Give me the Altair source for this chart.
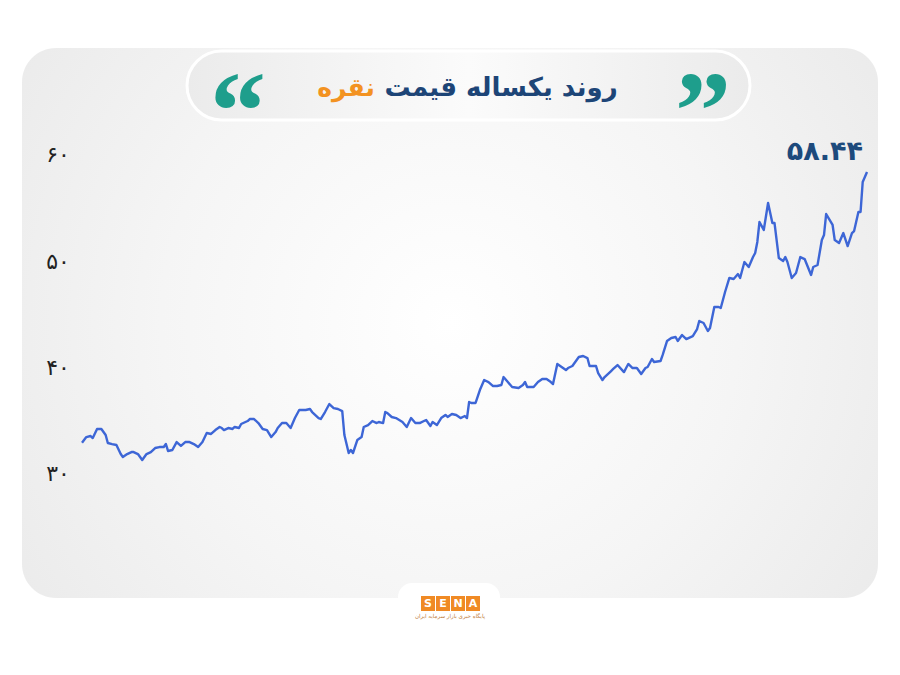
import altair as alt
import pandas as pd

# ---- data (day offset within the year, price USD/oz) ----
days = [0, 2, 4, 5, 7, 9, 11, 12, 14, 16, 18, 19, 21, 23, 24, 26, 28, 30, 32, 34,
        36, 38, 39, 40, 42, 44, 46, 48, 50, 52, 54, 56, 58, 60, 62, 64, 65, 66, 68, 70,
        71, 73, 74, 77, 78, 80, 82, 84, 86, 88, 90, 91, 93, 95, 97, 99, 101, 104, 106, 107,
        110, 111, 113, 115, 117, 119, 121, 122, 124, 125, 126, 128, 130, 131, 133, 135, 137, 138, 140, 141,
        142, 144, 146, 149, 151, 153, 155, 157, 159, 160, 162, 163, 165, 167, 169, 170, 172, 174, 176, 178,
        179, 180, 181, 183, 185, 187, 189, 191, 193, 195, 196, 198, 200, 203, 205, 206, 207, 210, 212, 214,
        216, 218, 219, 221, 225, 226, 228, 231, 233, 235, 236, 239, 240, 242, 243, 246, 247, 249, 252, 253,
        254, 256, 258, 260, 262, 263, 265, 266, 269, 270, 272, 274, 276, 277, 279, 281, 284, 286, 287, 289,
        291, 292, 294, 296, 297, 299, 301, 303, 305, 306, 308, 310, 312, 313, 314, 315, 317, 319, 321, 322,
        324, 326, 327, 328, 330, 332, 334, 336, 339, 340, 342, 344, 345, 346, 349, 350, 352, 354, 356, 358,
        359, 361, 362, 363, 365]
prices = [32.95, 33.48, 33.58, 33.39, 34.24, 34.24, 33.67, 32.92, 32.82, 32.73, 31.88, 31.60, 31.88, 32.07, 32.07, 31.88, 31.32, 31.88, 32.07, 32.45,
          32.54, 32.54, 32.82, 32.17, 32.26, 33.01, 32.64, 33.01, 33.01, 32.82, 32.54, 33.01, 33.86, 33.77, 34.14, 34.43, 34.33, 34.14, 34.33, 34.24,
          34.43, 34.33, 34.71, 34.99, 35.18, 35.18, 34.80, 34.24, 34.14, 33.48, 33.95, 34.33, 34.80, 34.80, 34.33, 35.27, 36.03, 36.03, 36.12, 35.84,
          35.27, 35.18, 35.84, 36.59, 36.21, 36.12, 35.93, 33.67, 31.98, 32.26, 31.98, 33.20, 33.48, 34.43, 34.61, 34.99, 34.80, 34.90, 34.80, 35.84,
          35.74, 35.37, 35.27, 34.90, 34.43, 35.27, 34.80, 34.80, 34.99, 35.08, 34.52, 34.90, 34.61, 35.27, 35.56, 35.37, 35.65, 35.56, 35.27, 35.46,
          35.27, 36.78, 36.69, 36.69, 37.91, 38.85, 38.66, 38.29, 38.29, 38.38, 39.13, 38.66, 38.19, 38.10, 38.38, 38.66, 38.19, 38.19, 38.66, 38.95,
          38.95, 38.66, 38.47, 40.36, 39.79, 39.98, 40.17, 41.02, 41.11, 40.92, 40.17, 40.17, 39.51, 38.85, 39.13, 39.70, 39.89, 40.26, 39.60, 39.98,
          40.36, 39.98, 39.98, 39.42, 39.98, 40.08, 40.83, 40.55, 40.64, 41.21, 42.52, 42.81, 42.90, 42.52, 43.09, 42.71, 42.99, 43.65, 44.41, 44.22,
          43.47, 43.75, 45.73, 45.73, 45.63, 47.14, 48.46, 48.36, 48.83, 48.46, 49.96, 49.49, 50.43, 50.81, 51.85, 53.73, 52.98, 55.52, 53.63, 53.63,
          50.34, 50.06, 50.43, 49.96, 48.46, 48.93, 50.43, 50.24, 48.74, 49.49, 49.68, 52.03, 52.50, 54.48, 53.45, 52.03, 51.75, 52.69, 51.47, 52.69,
          52.88, 54.67, 54.67, 57.50, 58.44]

y_ticks = [30, 40, 50, 60]
title_main = "روند یکساله قیمت"
title_accent = "نقره"
logo_letters = ["S", "E", "N", "A"]
logo_tagline = "پایگاه خبری بازار سرمایه ایران"

FA = "۰۱۲۳۴۵۶۷۸۹"


def fa_digits(s):
    return "".join(FA[int(c)] if c.isdigit() else c for c in str(s))


df = pd.DataFrame({"day": days, "price": prices})
last = df.tail(1).copy()
last["label"] = fa_digits(f"{prices[-1]:.2f}")
ticks = pd.DataFrame({"v": y_ticks, "label": [fa_digits(t) for t in y_ticks]})
one = pd.DataFrame({"a": [0]})

W, H = 884, 659
xs = alt.Scale(domain=[-34.41, 376.62], nice=False, zero=False)
ys = alt.Scale(domain=[11.83, 73.88], nice=False, zero=False)

panel_fill = alt.RadialGradient(
    gradient="radial",
    stops=[alt.GradientStop(color="#ffffff", offset=0),
           alt.GradientStop(color="#f5f5f5", offset=0.45),
           alt.GradientStop(color="#e5e5e5", offset=1)],
    x1=0.5, y1=0.5, r1=0, x2=0.5, y2=0.5, r2=0.75)

panel = alt.Chart(one).mark_rect(cornerRadius=34, fill=panel_fill).encode(
    x=alt.value(14), x2=alt.value(870), y=alt.value(40), y2=alt.value(590))

pill_fill = alt.LinearGradient(
    gradient="linear",
    stops=[alt.GradientStop(color="#ebebeb", offset=0),
           alt.GradientStop(color="#fbfbfb", offset=0.5),
           alt.GradientStop(color="#ebebeb", offset=1)],
    x1=0, y1=0, x2=1, y2=0)
pill = alt.Chart(one).mark_rect(cornerRadius=35, fill=pill_fill, stroke="#ffffff", strokeWidth=3).encode(
    x=alt.value(179), x2=alt.value(742), y=alt.value(43), y2=alt.value(112))

q_left = alt.Chart(one).mark_text(text="“", font="Liberation Serif", fontWeight="bold", fontSize=112,
                                  color="#1e9e8c", baseline="middle", align="center").encode(
    x=alt.value(230), y=alt.value(107))
q_right = alt.Chart(one).mark_text(text="”", font="Liberation Serif", fontWeight="bold", fontSize=112,
                                   color="#1e9e8c", baseline="middle", align="center").encode(
    x=alt.value(695), y=alt.value(107))

t_main = alt.Chart(one).mark_text(text=title_main, font="DejaVu Sans", fontWeight="bold", fontSize=26,
                                  color="#1d4577", baseline="middle", align="center").encode(
    x=alt.value(493), y=alt.value(80))
t_acc = alt.Chart(one).mark_text(text=title_accent, font="DejaVu Sans", fontWeight="bold", fontSize=25,
                                 color="#f39221", baseline="middle", align="center").encode(
    x=alt.value(338), y=alt.value(80))

tick_text = alt.Chart(ticks).mark_text(font="DejaVu Sans", fontSize=22, color="#222222",
                                       align="center", baseline="middle").encode(
    x=alt.value(50), y=alt.Y("v:Q", scale=ys, axis=None), text="label:N")

line = alt.Chart(df).mark_line(color="#3d66d6", strokeWidth=2.4, strokeJoin="round").encode(
    x=alt.X("day:Q", scale=xs, axis=None), y=alt.Y("price:Q", scale=ys, axis=None))

last_lbl = alt.Chart(last).mark_text(font="DejaVu Sans", fontWeight="bold", fontSize=27, color="#1d4a7c",
                                     align="right", baseline="middle", dx=-4, dy=-20).encode(
    x=alt.X("day:Q", scale=xs, axis=None), y=alt.Y("price:Q", scale=ys, axis=None), text="label:N")

tab = alt.Chart(one).mark_rect(cornerRadius=14, fill="#ffffff").encode(
    x=alt.value(390), x2=alt.value(492), y=alt.value(575), y2=alt.value(620))

logo_df = pd.DataFrame({"letter": logo_letters, "i": list(range(len(logo_letters)))})
logo_box = alt.Chart(logo_df).transform_calculate(
    px="413 + datum.i * 15").transform_calculate(px2="datum.px + 14").mark_rect(fill="#f08a24").encode(
    x=alt.X("px:Q", scale=None), x2=alt.X2("px2:Q"), y=alt.value(588), y2=alt.value(603))
logo_txt = alt.Chart(logo_df).transform_calculate(
    px="420 + datum.i * 15").mark_text(font="DejaVu Sans", fontWeight="bold", fontSize=11, color="#ffffff",
                                        align="center", baseline="middle").encode(
    x=alt.X("px:Q", scale=None), y=alt.value(596), text="letter:N")
logo_tag = alt.Chart(one).mark_text(text=logo_tagline, font="DejaVu Sans", fontSize=5.5, color="#c07a3a",
                                    align="center", baseline="middle").encode(x=alt.value(442), y=alt.value(608))

chart = alt.layer(panel, pill, q_left, q_right, t_main, t_acc, tick_text, line, last_lbl,
                  tab, logo_box, logo_txt, logo_tag).properties(
    width=W, height=H, padding=0, autosize=alt.AutoSizeParams(type="none"),
    background="#ffffff"
).configure_view(stroke=None)

chart.save("out.html", embed_options={"renderer": "svg", "actions": False})
